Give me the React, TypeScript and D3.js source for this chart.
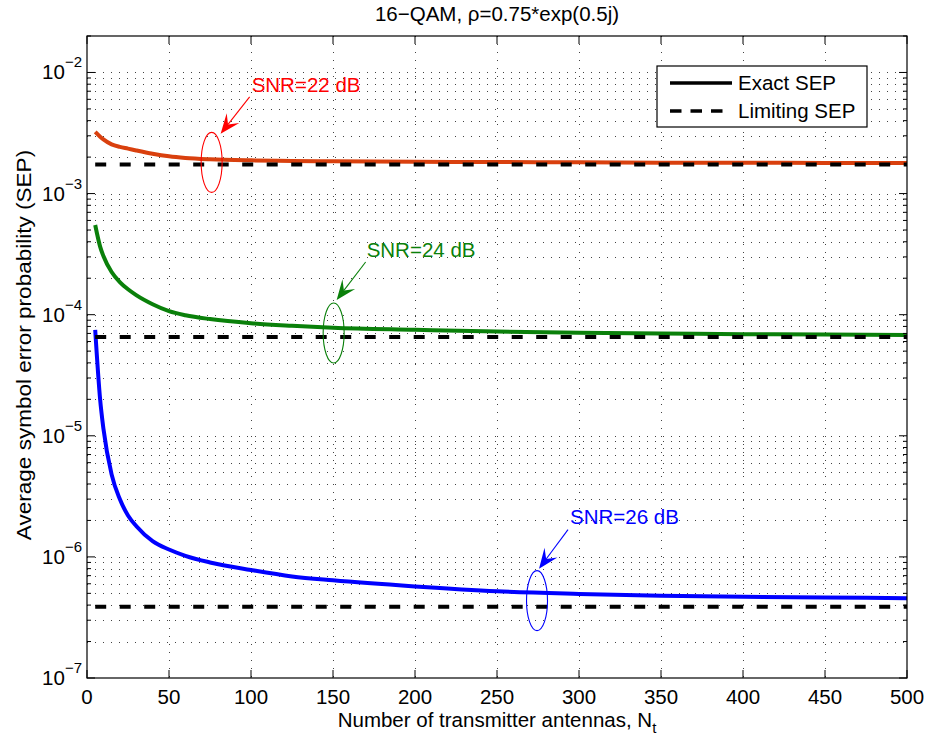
import React from 'react';
import * as d3 from 'd3';

// Number of transmitter antennas
const ntValues = [5, 8, 10, 15, 20, 25, 30, 40, 50, 60, 75, 100, 125, 150, 200, 250, 300, 350, 400, 450, 500];

// Exact SEP, SNR = 22 dB
const exact22 = [3.23e-3, 2.95e-3, 2.8e-3, 2.55e-3, 2.43e-3, 2.35e-3, 2.27e-3, 2.13e-3, 2.03e-3, 1.97e-3, 1.92e-3, 1.88e-3, 1.86e-3, 1.845e-3, 1.83e-3, 1.82e-3, 1.81e-3, 1.8e-3, 1.795e-3, 1.79e-3, 1.785e-3];
// Exact SEP, SNR = 24 dB
const exact24 = [5.5e-4, 3.65e-4, 3.05e-4, 2.25e-4, 1.86e-4, 1.62e-4, 1.45e-4, 1.22e-4, 1.07e-4, 9.9e-5, 9.2e-5, 8.5e-5, 8.1e-5, 7.8e-5, 7.5e-5, 7.25e-5, 7.1e-5, 7.0e-5, 6.9e-5, 6.85e-5, 6.8e-5];
// Exact SEP, SNR = 26 dB
const exact26 = [7.5e-5, 2.0e-5, 1.15e-5, 4.8e-6, 3.0e-6, 2.2e-6, 1.8e-6, 1.35e-6, 1.15e-6, 1.02e-6, 9.0e-7, 7.8e-7, 6.9e-7, 6.4e-7, 5.7e-7, 5.2e-7, 4.95e-7, 4.78e-7, 4.68e-7, 4.62e-7, 4.56e-7];

// Limiting SEP values
const limitNt = [5, 500];
const limitSep = [1.74e-3, 6.55e-5, 3.87e-7];

const seriesColors = ['#d9400e', '#0a800a', '#0000ff'];
const annoColors = ['#ff0000', '#0a800a', '#0000ff'];
const annoLabels = ['SNR=22 dB', 'SNR=24 dB', 'SNR=26 dB'];
// ellipse centre positions (Nt, SEP)
const annoNt = [76, 150.4, 274.4];
const annoSep = [1.81e-3, 7.06e-5, 4.35e-7];

const xTicks = [0, 50, 100, 150, 200, 250, 300, 350, 400, 450, 500];
const yDecades = [-7, -6, -5, -4, -3, -2];

const title = '16\u2212QAM, \u03c1=0.75*exp(0.5j)';
const xLabel = 'Number of transmitter antennas, N';
const yLabel = 'Average symbol error probability (SEP)';
const legendLabels = ['Exact SEP', 'Limiting SEP'];

const FONT = '"Liberation Sans", Arial, Helvetica, sans-serif';

// pixel offsets of annotation parts relative to the ellipse centre
const tipOff = [[9, -28.5], [3, -33], [2, -32]];
const tailOff = [[38, -65.5], [32, -71], [31, -71]];
const textOff = [[40, -70.5], [33, -76], [33, -77]];

export default function App() {
  const W = 927, H = 738;
  const L = 87, R = 907, T = 36, B = 678;
  const x = d3.scaleLinear().domain([0, 500]).range([L, R]);
  const y = d3.scaleLog().domain([1e-7, 2e-2]).range([B, T]);

  const line = d3
    .line<[number, number]>()
    .x((d) => x(d[0]))
    .y((d) => y(d[1]))
    .curve(d3.curveMonotoneX);

  const series = [exact22, exact24, exact26].map((vals) =>
    vals.map((v, i) => [ntValues[i], v] as [number, number])
  );

  const minorY: number[] = [];
  yDecades.forEach((d) => {
    for (let m = 1; m <= 9; m++) {
      const v = m * Math.pow(10, d);
      if (v > 1e-7 * 1.0001 && v < 2e-2 * 0.9999) minorY.push(v);
    }
  });
  const allYTicks: { v: number; major: boolean }[] = [];
  yDecades.forEach((d) => {
    for (let m = 1; m <= 9; m++) {
      const v = m * Math.pow(10, d);
      if (v <= 2e-2 * 1.0001) allYTicks.push({ v, major: m === 1 });
    }
  });

  const FS = 20.5;

  return (
    <svg
      width={W}
      height={H}
      style={{ position: 'absolute', left: 0, top: 0, background: '#fff' }}
      fontFamily={FONT}
    >
      <rect x={0} y={0} width={W} height={H} fill="#fff" />
      {/* grid */}
      <g stroke="#222" strokeOpacity={0.85} strokeWidth={1} strokeDasharray="1 7" fill="none">
        {xTicks.slice(1, -1).map((t) => (
          <line key={'gx' + t} x1={Math.round(x(t)) + 0.5} x2={Math.round(x(t)) + 0.5} y1={T} y2={B} />
        ))}
        {minorY.map((v, i) => (
          <line key={'gy' + i} x1={L} x2={R} y1={Math.round(y(v)) + 0.5} y2={Math.round(y(v)) + 0.5} />
        ))}
      </g>

      {/* exact curves */}
      {series.map((s, i) => (
        <path key={'s' + i} d={line(s) || ''} fill="none" stroke={seriesColors[i]} strokeWidth={4} strokeLinejoin="round" />
      ))}

      {/* limiting lines */}
      {limitSep.map((v, i) => (
        <line
          key={'lim' + i}
          x1={x(limitNt[0])}
          x2={x(limitNt[1])}
          y1={y(v)}
          y2={y(v)}
          stroke="#000"
          strokeWidth={4}
          strokeDasharray="11 13.5"
        />
      ))}

      {/* annotations */}
      {annoLabels.map((lab, i) => {
        const cx = x(annoNt[i]);
        const cy = y(annoSep[i]);
        const tip = [cx + tipOff[i][0], cy + tipOff[i][1]];
        const tail = [cx + tailOff[i][0], cy + tailOff[i][1]];
        const ang = Math.atan2(tip[1] - tail[1], tip[0] - tail[0]);
        const hl = 20, hw = 8;
        const ca = Math.cos(ang), sa = Math.sin(ang);
        const pt = (a: number, b: number) => [tip[0] - a * ca + b * sa, tip[1] - a * sa - b * ca];
        const p1 = pt(hl, hw), p2 = pt(hl * 0.6, 0), p3 = pt(hl, -hw);
        return (
          <g key={'a' + i}>
            <ellipse cx={cx} cy={cy} rx={10.5} ry={30} fill="none" stroke={annoColors[i]} strokeWidth={1.1} />
            <line x1={tail[0]} y1={tail[1]} x2={p2[0]} y2={p2[1]} stroke={annoColors[i]} strokeWidth={1.1} />
            <path
              d={`M${tip[0]},${tip[1]}L${p1[0]},${p1[1]}L${p2[0]},${p2[1]}L${p3[0]},${p3[1]}Z`}
              fill={annoColors[i]}
              stroke="none"
            />
            <text x={cx + textOff[i][0]} y={cy + textOff[i][1]} fontSize={FS} fill={annoColors[i]}>
              {lab}
            </text>
          </g>
        );
      })}

      {/* axes box */}
      <rect x={L} y={T} width={R - L} height={B - T} fill="none" stroke="#000" strokeWidth={1.2} />

      {/* ticks */}
      <g stroke="#000" strokeWidth={1}>
        {xTicks.map((t) => (
          <g key={'xt' + t}>
            <line x1={x(t)} x2={x(t)} y1={B} y2={B - 8} />
            <line x1={x(t)} x2={x(t)} y1={T} y2={T + 8} />
          </g>
        ))}
        {allYTicks.map((tk, i) => {
          const len = tk.major ? 8 : 4;
          const yy = y(tk.v);
          return (
            <g key={'yt' + i}>
              <line x1={L} x2={L + len} y1={yy} y2={yy} />
              <line x1={R} x2={R - len} y1={yy} y2={yy} />
            </g>
          );
        })}
      </g>

      {/* tick labels */}
      <g fontSize={FS} fill="#000">
        {xTicks.map((t) => (
          <text key={'xl' + t} x={x(t)} y={704} textAnchor="middle">
            {t}
          </text>
        ))}
        {yDecades.map((d) => (
          <text key={'yl' + d} x={82} y={y(Math.pow(10, d)) + 7} textAnchor="end">
            <tspan>10</tspan>
            <tspan dy={-12} fontSize={15}>{'\u2212' + Math.abs(d)}</tspan>
          </text>
        ))}
      </g>

      {/* title & labels */}
      <text x={(L + R) / 2} y={21} textAnchor="middle" fontSize={FS} fill="#000">
        {title}
      </text>
      <text x={(L + R) / 2} y={727} textAnchor="middle" fontSize={FS} fill="#000">
        {xLabel}
        <tspan dy={6} fontSize={15}>t</tspan>
      </text>
      <text
        transform={`translate(31,345) rotate(-90) scale(1.1,1)`}
        textAnchor="middle"
        fontSize={FS}
        fill="#000"
      >
        {yLabel}
      </text>

      {/* legend */}
      <g>
        <rect x={657} y={66} width={210} height={61} fill="#fff" stroke="#000" strokeWidth={1.2} />
        <line x1={670} x2={732} y1={83} y2={83} stroke="#000" strokeWidth={3.5} />
        <line x1={670} x2={724} y1={111} y2={111} stroke="#000" strokeWidth={3.5} strokeDasharray="11.5 9" />
        <text x={738} y={90} fontSize={FS} fill="#000">{legendLabels[0]}</text>
        <text x={738} y={118} fontSize={FS} fill="#000">{legendLabels[1]}</text>
      </g>
    </svg>
  );
}
